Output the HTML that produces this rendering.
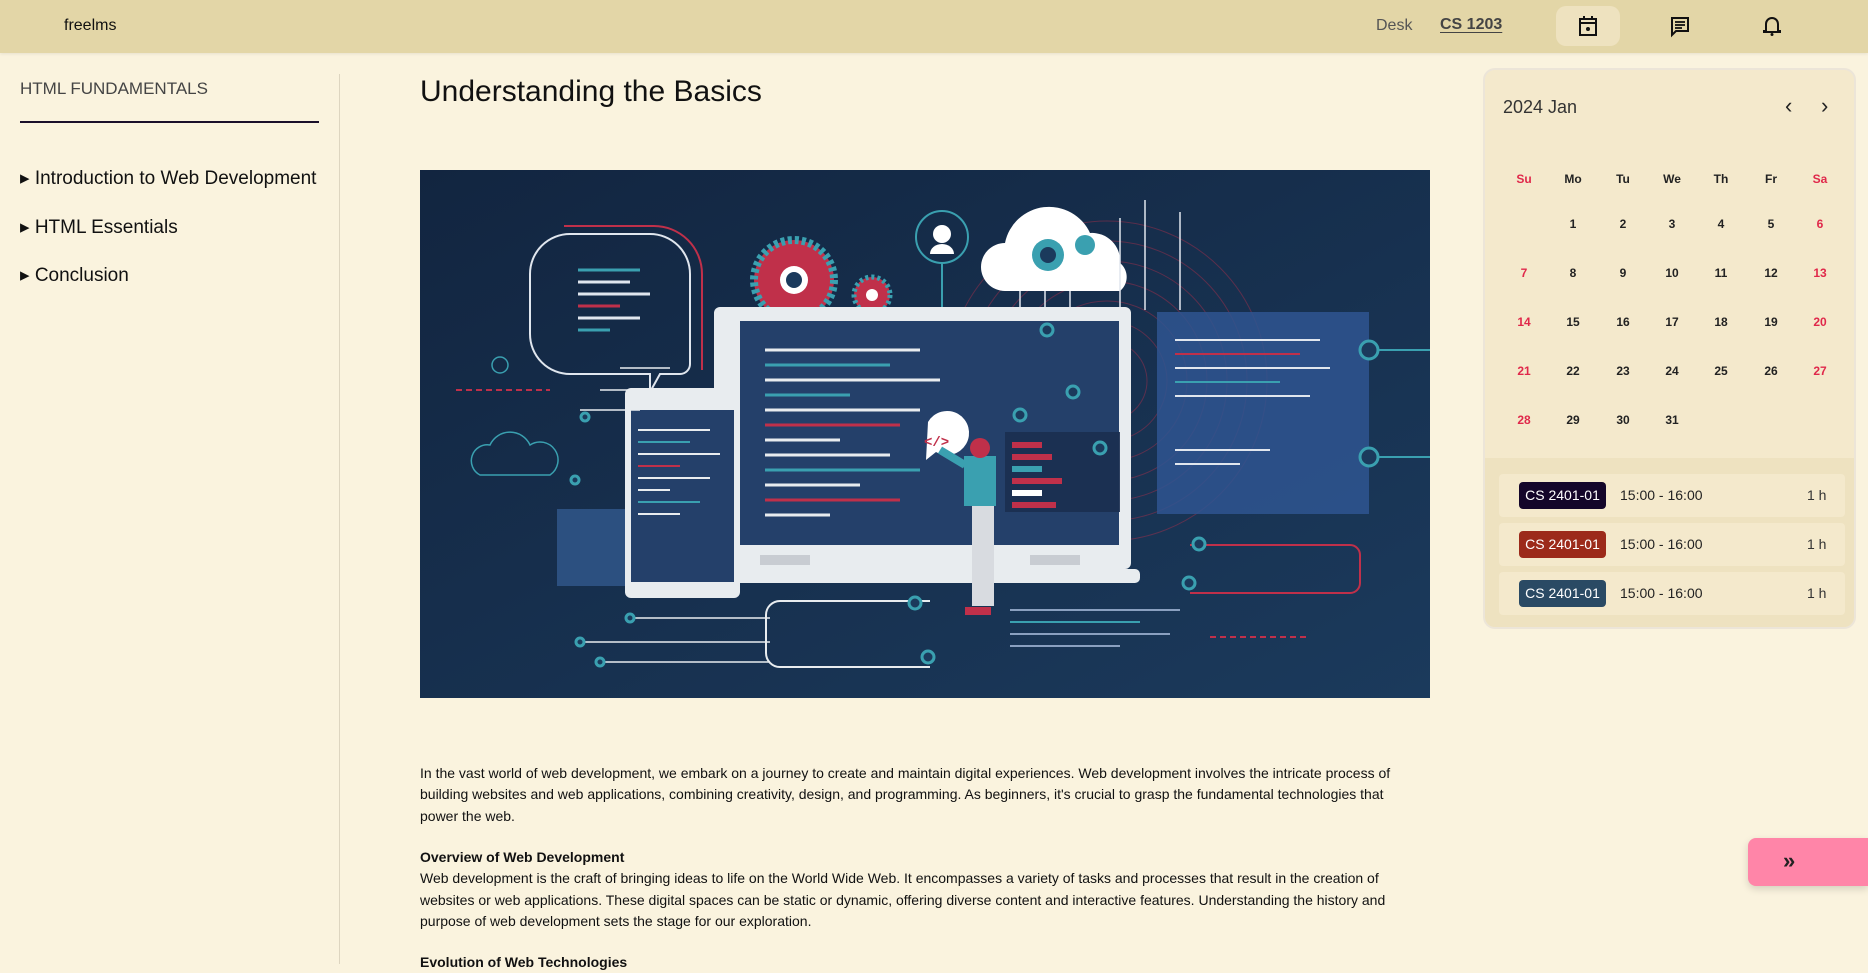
<!DOCTYPE html>
<html><head><meta charset="utf-8">
<style>
*{margin:0;padding:0;box-sizing:border-box}
body{width:1868px;height:964px;overflow:hidden;background:#faf3de;font-family:"Liberation Sans",sans-serif;color:#111;position:relative}
.hdr{position:absolute;left:0;top:0;width:1868px;height:53px;background:#e3d6a7;box-shadow:0 1px 3px rgba(0,0,0,.08)}
.abs{position:absolute;white-space:nowrap}
.side{position:absolute;left:339px;top:74px;width:1px;height:890px;background:#ddd5c0}
.p{font-size:14px;line-height:21.3px;color:#111}
.cal{position:absolute;left:1483px;top:68px;width:373px;height:561px;background:#f4e9cc;border:2px solid #ece5d8;border-radius:12px;overflow:hidden}
.ev{position:absolute;left:0;top:388px;width:373px;height:175px;background:#eee2c0}
.card{position:absolute;left:14px;width:346px;height:43px;background:#f4e9cc;border-radius:4px}
.badge{position:absolute;left:20px;top:8px;width:87px;height:27px;border-radius:4px;color:#fff;font-size:14px;line-height:27px;text-align:center}
.tm{position:absolute;left:121px;top:0;line-height:43px;font-size:14px;color:#222}
.hr{position:absolute;left:308px;top:0;line-height:43px;font-size:14px;color:#333}
.d{position:absolute;width:40px;text-align:center;font-size:12px;font-weight:bold;color:#222}
.r{color:#e0284a}
</style></head><body>
<div class="hdr"></div>
<div class="abs" style="left:64px;top:17px;font-size:16px">freelms</div>
<div class="abs" style="left:1376px;top:17px;font-size:16px;color:#555">Desk</div>
<div class="abs" style="left:1440px;top:16px;font-size:16px;font-weight:bold;color:#444;text-decoration:underline;text-underline-offset:3px">CS 1203</div>
<div class="abs" style="left:1556px;top:6px;width:64px;height:40px;background:#eee2bf;border-radius:10px"></div>
<svg class="abs" style="left:1578px;top:15px" width="20" height="22" viewBox="0 0 20 22"><rect x="2" y="4" width="16" height="16" fill="none" stroke="#111" stroke-width="2"/><line x1="2" y1="8" x2="18" y2="8" stroke="#111" stroke-width="2"/><line x1="6" y1="1" x2="6" y2="5" stroke="#111" stroke-width="2"/><line x1="14" y1="1" x2="14" y2="5" stroke="#111" stroke-width="2"/><circle cx="10" cy="14" r="2" fill="#111"/></svg>
<svg class="abs" style="left:1670px;top:16px" width="20" height="22" viewBox="0 0 20 22"><path d="M2 2h16v13H6l-4 4z" fill="none" stroke="#111" stroke-width="2"/><line x1="5" y1="6" x2="15" y2="6" stroke="#111" stroke-width="1.8"/><line x1="5" y1="9" x2="15" y2="9" stroke="#111" stroke-width="1.8"/><line x1="5" y1="12" x2="12" y2="12" stroke="#111" stroke-width="1.8"/></svg>
<svg class="abs" style="left:1763px;top:15px" width="18" height="22" viewBox="0 0 18 22"><path d="M3 16V9a6 6 0 0 1 12 0v7h2v1H1v-1z" fill="none" stroke="#111" stroke-width="2"/><circle cx="9" cy="19.5" r="1.5" fill="#111"/></svg>

<div class="abs" style="left:20px;top:79px;font-size:17px;color:#444;font-weight:300">HTML FUNDAMENTALS</div>
<div class="abs" style="left:20px;top:121px;width:299px;height:2px;background:#1a0f2a"></div>
<div class="abs" style="left:20px;top:167px;font-size:19px">▸ Introduction to Web Development</div>
<div class="abs" style="left:20px;top:216px;font-size:19px">▸ HTML Essentials</div>
<div class="abs" style="left:20px;top:264px;font-size:19px">▸ Conclusion</div>
<div class="side"></div>

<div class="abs" style="left:420px;top:75px;font-size:30px">Understanding the Basics</div>

<svg class="abs" style="left:420px;top:170px" width="1010" height="528" viewBox="0 0 1010 528">
<defs><linearGradient id="bg" x1="0" y1="0" x2="1" y2="1"><stop offset="0" stop-color="#122540"/><stop offset="1" stop-color="#1b3a5c"/></linearGradient></defs>
<rect width="1010" height="528" fill="url(#bg)"/>
<g fill="none" stroke="#c0304a" stroke-opacity=".4">
<circle cx="687" cy="211" r="40"/><circle cx="687" cy="211" r="60"/><circle cx="687" cy="211" r="80"/><circle cx="687" cy="211" r="100"/><circle cx="687" cy="211" r="120"/><circle cx="687" cy="211" r="140"/><circle cx="687" cy="211" r="160"/></g>
<path d="M150 64 h80 a40 40 0 0 1 40 40 v90 a10 10 0 0 1 -10 10 h-20 l-10 18 v-18 h-80 a40 40 0 0 1 -40 -40 v-60 a40 40 0 0 1 40 -40z" fill="none" stroke="#e0e6ee" stroke-width="2"/>
<path d="M144 56 h90 a48 48 0 0 1 48 48 v96" fill="none" stroke="#c0304a" stroke-width="2"/>
<g stroke-width="3"><line x1="158" y1="100" x2="220" y2="100" stroke="#3aa0b0"/><line x1="158" y1="112" x2="210" y2="112" stroke="#e0e6ee"/><line x1="158" y1="124" x2="230" y2="124" stroke="#e0e6ee"/><line x1="158" y1="136" x2="200" y2="136" stroke="#c0304a"/><line x1="158" y1="148" x2="220" y2="148" stroke="#e0e6ee"/><line x1="158" y1="160" x2="190" y2="160" stroke="#3aa0b0"/></g>
<circle cx="374" cy="110" r="40" fill="#c0304a" stroke="#3aa0b0" stroke-width="8" stroke-dasharray="4 3"/><circle cx="374" cy="110" r="14" fill="#fff"/><circle cx="374" cy="110" r="8" fill="#1b3a5c"/>
<circle cx="452" cy="125" r="18" fill="#c0304a" stroke="#3aa0b0" stroke-width="5" stroke-dasharray="3 3"/><circle cx="452" cy="125" r="6" fill="#fff"/>
<circle cx="522" cy="67" r="26" fill="none" stroke="#3aa0b0" stroke-width="2"/><circle cx="522" cy="64" r="9" fill="#fff"/><path d="M510 84 a12 10 0 0 1 24 0z" fill="#fff"/>
<line x1="522" y1="93" x2="522" y2="137" stroke="#3aa0b0" stroke-width="2"/>
<path d="M585 121 a24 24 0 0 1 0 -48 a45 45 0 0 1 85 -10 a28 28 0 0 1 30 30 a18 18 0 0 1 0 28 z" fill="#fff"/>
<circle cx="628" cy="85" r="16" fill="#3aa0b0"/><circle cx="628" cy="85" r="8" fill="#1b3a5c"/><circle cx="665" cy="75" r="10" fill="#3aa0b0"/>
<g stroke="#e0e6ee" stroke-width="1.5"><line x1="600" y1="121" x2="600" y2="240"/><line x1="625" y1="121" x2="625" y2="185"/><line x1="650" y1="121" x2="650" y2="230"/><line x1="700" y1="48" x2="700" y2="140"/><line x1="725" y1="30" x2="725" y2="140"/><line x1="760" y1="42" x2="760" y2="140"/></g>
<rect x="737" y="142" width="212" height="202" fill="#2f5590" opacity=".85"/>
<g stroke-width="2"><line x1="755" y1="170" x2="900" y2="170" stroke="#e0e6ee"/><line x1="755" y1="184" x2="880" y2="184" stroke="#c0304a"/><line x1="755" y1="198" x2="910" y2="198" stroke="#e0e6ee"/><line x1="755" y1="212" x2="860" y2="212" stroke="#3aa0b0"/><line x1="755" y1="226" x2="890" y2="226" stroke="#e0e6ee"/><line x1="755" y1="280" x2="850" y2="280" stroke="#e0e6ee"/><line x1="755" y1="294" x2="820" y2="294" stroke="#e0e6ee"/></g>
<rect x="294" y="137" width="417" height="262" rx="6" fill="#e8ecef"/>
<rect x="320" y="151" width="379" height="224" fill="#24406a"/>
<rect x="290" y="399" width="430" height="14" rx="5" fill="#e8ecef"/>
<rect x="340" y="385" width="50" height="10" fill="#c8ccd2"/><rect x="610" y="385" width="50" height="10" fill="#c8ccd2"/>
<g stroke-width="3">
<line x1="345" y1="180" x2="500" y2="180" stroke="#e8ecef"/><line x1="345" y1="195" x2="470" y2="195" stroke="#3aa0b0"/><line x1="345" y1="210" x2="520" y2="210" stroke="#e8ecef"/><line x1="345" y1="225" x2="430" y2="225" stroke="#3aa0b0"/><line x1="345" y1="240" x2="500" y2="240" stroke="#e8ecef"/><line x1="345" y1="255" x2="480" y2="255" stroke="#c0304a"/><line x1="345" y1="270" x2="420" y2="270" stroke="#e8ecef"/><line x1="345" y1="285" x2="470" y2="285" stroke="#e8ecef"/><line x1="345" y1="300" x2="500" y2="300" stroke="#3aa0b0"/><line x1="345" y1="315" x2="440" y2="315" stroke="#e8ecef"/><line x1="345" y1="330" x2="480" y2="330" stroke="#c0304a"/><line x1="345" y1="345" x2="410" y2="345" stroke="#e8ecef"/></g>
<rect x="585" y="262" width="115" height="80" fill="#1b2f50" opacity=".9"/>
<rect x="592" y="272" width="30" height="6" fill="#c0304a"/><rect x="592" y="284" width="40" height="6" fill="#c0304a"/><rect x="592" y="296" width="30" height="6" fill="#3aa0b0"/><rect x="592" y="308" width="50" height="6" fill="#c0304a"/><rect x="592" y="320" width="30" height="6" fill="#fff"/><rect x="592" y="332" width="44" height="6" fill="#c0304a"/>
<rect x="137" y="339" width="68" height="77" fill="#2c5080"/>
<rect x="205" y="218" width="115" height="210" rx="6" fill="#e8ecef"/><rect x="211" y="240" width="103" height="172" fill="#24406a"/>
<g stroke-width="2"><line x1="218" y1="260" x2="290" y2="260" stroke="#e8ecef"/><line x1="218" y1="272" x2="270" y2="272" stroke="#3aa0b0"/><line x1="218" y1="284" x2="300" y2="284" stroke="#e8ecef"/><line x1="218" y1="296" x2="260" y2="296" stroke="#c0304a"/><line x1="218" y1="308" x2="290" y2="308" stroke="#e8ecef"/><line x1="218" y1="320" x2="250" y2="320" stroke="#e8ecef"/><line x1="218" y1="332" x2="280" y2="332" stroke="#3aa0b0"/><line x1="218" y1="344" x2="260" y2="344" stroke="#e8ecef"/></g>
<path d="M508 252 a22 22 0 1 1 8 30 l-10 8 z" fill="#fff"/><text x="504" y="276" font-size="14" fill="#c0304a" font-family="Liberation Mono" font-weight="bold">&lt;/&gt;</text>
<rect x="544" y="286" width="32" height="50" fill="#3aa0b0"/><rect x="552" y="336" width="22" height="100" fill="#d8dbe0"/><circle cx="560" cy="278" r="10" fill="#c0304a"/><rect x="545" y="437" width="26" height="8" fill="#c0304a"/>
<line x1="545" y1="295" x2="520" y2="280" stroke="#3aa0b0" stroke-width="8"/>
<path d="M200 198 h50 M180 220 h70 M160 240 h60 M210 448 h140 M160 472 h190 M180 492 h170" stroke="#e8ecef" stroke-width="1.5" fill="none"/>
<path d="M360 431 h150 M360 431 a14 14 0 0 0 -14 14 v38 a14 14 0 0 0 14 14 h150" fill="none" stroke="#e8ecef" stroke-width="2"/>
<path d="M770 375 h160 a10 10 0 0 1 10 10 v28 a10 10 0 0 1 -10 10 h-160" fill="none" stroke="#c0304a" stroke-width="2"/>
<g fill="#1b3a5c" stroke="#3aa0b0" stroke-width="3"><circle cx="627" cy="160" r="6"/><circle cx="653" cy="222" r="6"/><circle cx="600" cy="245" r="6"/><circle cx="680" cy="278" r="6"/><circle cx="949" cy="180" r="9"/><circle cx="949" cy="287" r="9"/><circle cx="779" cy="374" r="6"/><circle cx="769" cy="413" r="6"/><circle cx="495" cy="433" r="6"/><circle cx="508" cy="487" r="6"/><circle cx="165" cy="247" r="4"/><circle cx="155" cy="310" r="4"/><circle cx="210" cy="448" r="4"/><circle cx="160" cy="472" r="4"/><circle cx="180" cy="492" r="4"/></g>
<line x1="958" y1="180" x2="1010" y2="180" stroke="#3aa0b0" stroke-width="2"/><line x1="958" y1="287" x2="1010" y2="287" stroke="#3aa0b0" stroke-width="2"/>
<path d="M60 305 a16 16 0 0 1 10 -30 a22 22 0 0 1 40 0 a15 15 0 0 1 20 30z" fill="none" stroke="#3aa0b0" stroke-width="1.5"/>
<circle cx="80" cy="195" r="8" fill="none" stroke="#3aa0b0" stroke-width="1.5"/>
<g stroke-width="2"><line x1="590" y1="440" x2="760" y2="440" stroke="#8aa0c0"/><line x1="590" y1="452" x2="720" y2="452" stroke="#3aa0b0"/><line x1="590" y1="464" x2="750" y2="464" stroke="#8aa0c0"/><line x1="590" y1="476" x2="700" y2="476" stroke="#8aa0c0"/><line x1="790" y1="467" x2="890" y2="467" stroke="#c0304a" stroke-dasharray="6 4"/><line x1="36" y1="220" x2="130" y2="220" stroke="#c0304a" stroke-dasharray="6 4"/></g>
</svg>

<div class="abs p" style="left:420px;top:763px">In the vast world of web development, we embark on a journey to create and maintain digital experiences. Web development involves the intricate process of<br>building websites and web applications, combining creativity, design, and programming. As beginners, it's crucial to grasp the fundamental technologies that<br>power the web.</div>
<div class="abs p" style="left:420px;top:847px"><b>Overview of Web Development</b><br>Web development is the craft of bringing ideas to life on the World Wide Web. It encompasses a variety of tasks and processes that result in the creation of<br>websites or web applications. These digital spaces can be static or dynamic, offering diverse content and interactive features. Understanding the history and<br>purpose of web development sets the stage for our exploration.</div>
<div class="abs p" style="left:420px;top:952px"><b>Evolution of Web Technologies</b></div>

<div class="cal">
<div class="abs" style="left:18px;top:27px;font-size:18px;color:#333">2024 Jan</div>
<div class="abs" style="left:300px;top:23px;font-size:22px;color:#222">&#8249;</div>
<div class="abs" style="left:336px;top:23px;font-size:22px;color:#222">&#8250;</div>
<div class="d r" style="left:19px;top:102px">Su</div><div class="d" style="left:68px;top:102px">Mo</div><div class="d" style="left:118px;top:102px">Tu</div><div class="d" style="left:167px;top:102px">We</div><div class="d" style="left:216px;top:102px">Th</div><div class="d" style="left:266px;top:102px">Fr</div><div class="d r" style="left:315px;top:102px">Sa</div>
<div class="d" style="left:68px;top:147px">1</div><div class="d" style="left:118px;top:147px">2</div><div class="d" style="left:167px;top:147px">3</div><div class="d" style="left:216px;top:147px">4</div><div class="d" style="left:266px;top:147px">5</div><div class="d r" style="left:315px;top:147px">6</div>
<div class="d r" style="left:19px;top:196px">7</div><div class="d" style="left:68px;top:196px">8</div><div class="d" style="left:118px;top:196px">9</div><div class="d" style="left:167px;top:196px">10</div><div class="d" style="left:216px;top:196px">11</div><div class="d" style="left:266px;top:196px">12</div><div class="d r" style="left:315px;top:196px">13</div>
<div class="d r" style="left:19px;top:245px">14</div><div class="d" style="left:68px;top:245px">15</div><div class="d" style="left:118px;top:245px">16</div><div class="d" style="left:167px;top:245px">17</div><div class="d" style="left:216px;top:245px">18</div><div class="d" style="left:266px;top:245px">19</div><div class="d r" style="left:315px;top:245px">20</div>
<div class="d r" style="left:19px;top:294px">21</div><div class="d" style="left:68px;top:294px">22</div><div class="d" style="left:118px;top:294px">23</div><div class="d" style="left:167px;top:294px">24</div><div class="d" style="left:216px;top:294px">25</div><div class="d" style="left:266px;top:294px">26</div><div class="d r" style="left:315px;top:294px">27</div>
<div class="d r" style="left:19px;top:343px">28</div><div class="d" style="left:68px;top:343px">29</div><div class="d" style="left:118px;top:343px">30</div><div class="d" style="left:167px;top:343px">31</div>
<div class="ev">
<div class="card" style="top:16px"><div class="badge" style="background:#14062a">CS 2401-01</div><div class="tm">15:00 - 16:00</div><div class="hr">1 h</div></div>
<div class="card" style="top:65px"><div class="badge" style="background:#9c2a1a">CS 2401-01</div><div class="tm">15:00 - 16:00</div><div class="hr">1 h</div></div>
<div class="card" style="top:114px"><div class="badge" style="background:#2a4a64">CS 2401-01</div><div class="tm">15:00 - 16:00</div><div class="hr">1 h</div></div>
</div>
</div>

<div class="abs" style="left:1748px;top:838px;width:120px;height:48px;background:#ff85a8;border-radius:8px 0 0 8px;box-shadow:0 3px 8px rgba(0,0,0,.15)"></div>
<div class="abs" style="left:1783px;top:848px;font-size:22px;font-weight:bold;color:#222">»</div>
</body></html>
